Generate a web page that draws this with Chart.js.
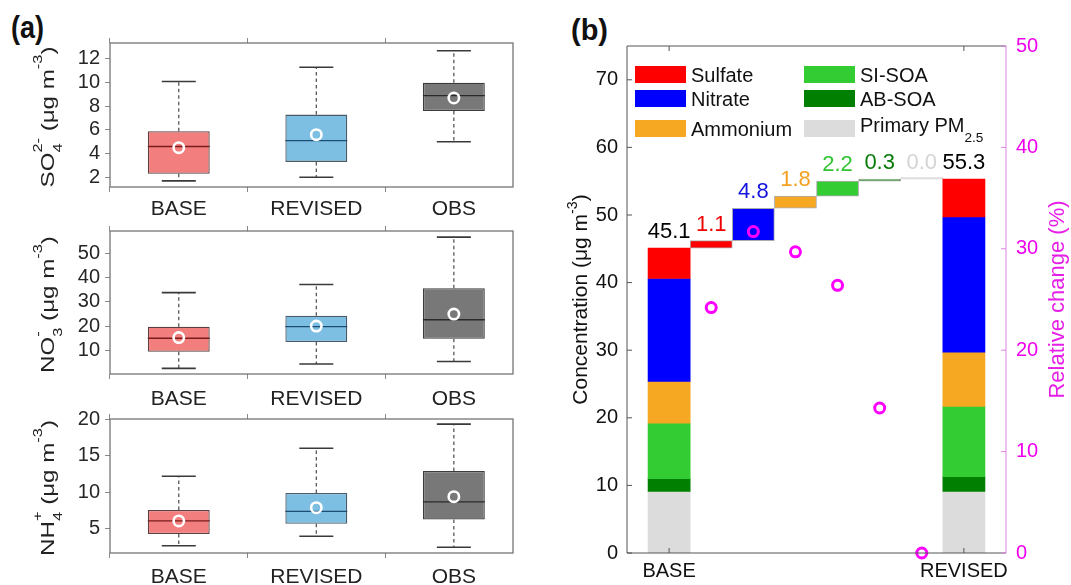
<!DOCTYPE html>
<html>
<head>
<meta charset="utf-8">
<script src="https://cdn.jsdelivr.net/npm/chart.js@4.4.1/dist/chart.umd.min.js"></script>
<style>
  body { margin: 0; width: 1071px; height: 585px; overflow: hidden; position: relative; background: #fff;
         font-family: "Liberation Sans", Arial, sans-serif; }
  canvas { position: absolute; left: 0; top: 0; }
  .tag { position: absolute; font-weight: bold; font-size: 27px; color: #111; }
</style>
</head>
<body>
<div class="tag" style="left:11px;top:10px;transform:scaleY(1.15);transform-origin:top left">(a)</div>
<div class="tag" style="left:571px;top:14px;font-size:29px">(b)</div>
<canvas id="so4" width="1071" height="585"></canvas>
<canvas id="no3" width="1071" height="585"></canvas>
<canvas id="nh4" width="1071" height="585"></canvas>
<canvas id="wf" width="1071" height="585"></canvas>
<script>
// ---- panel (a): box plots, [lower whisker, Q1, median, Q3, upper whisker]
const groups = ['BASE', 'REVISED', 'OBS'];
const so4Box = [[1.7, 2.3, 4.6, 5.9, 10.1], [2.0, 3.3, 5.1, 7.3, 11.3], [5.0, 7.6, 8.9, 10.0, 12.7]];
const so4Mean = [4.5, 5.6, 8.7];
const no3Box = [[2.8, 9.6, 15.1, 19.8, 33.8], [4.6, 13.6, 19.9, 24.3, 37.1], [5.6, 14.9, 22.7, 35.6, 56.5]];
const no3Mean = [15.4, 20.1, 25.0];
const nh4Box = [[2.7, 4.3, 6.1, 7.6, 12.2], [4.0, 5.7, 7.4, 9.9, 16.0], [2.5, 6.3, 8.7, 12.9, 19.3]];
const nh4Mean = [6.1, 7.9, 9.4];

// ---- panel (b): waterfall
const species = ['Sulfate', 'Nitrate', 'Ammonium', 'SI-SOA', 'AB-SOA', 'Primary PM2.5'];
const baseConc = [4.5, 15.2, 6.2, 8.2, 1.9, 9.1];
const deltaConc = [1.1, 4.8, 1.8, 2.2, 0.3, 0.0];
const revisedConc = [5.6, 20.0, 8.0, 10.4, 2.2, 9.1];
const relChange = [24.2, 31.7, 29.7, 26.4, 14.3, 0.0];
const xLabelsB = ['BASE', '', '', '', '', '', '', 'REVISED'];

const boxFill = ['#f37e7e', '#7dbfe3', '#787878'];
const boxEdge = ['#5a4040', '#4a5a66', '#3c3c3c'];
const medianColor = ['#7a1c1c', '#1d4d70', '#2a2a2a'];
const speciesColor = ['#ff0000', '#0000ff', '#f7a823', '#33cc33', '#007f00', '#dcdcdc'];
const labelColor = ['#ee0000', '#1515dd', '#f5a020', '#33c433', '#087a08', '#d4d4d4'];

const FAM = '"Liberation Sans", Arial, sans-serif';
Chart.defaults.font.family = FAM;
const font = s => s + 'px ' + FAM;

const fixSize = (w, h) => s => {
  if (w !== null) s.width = w;
  if (h !== null) s.height = h;
  s.paddingLeft = s.paddingRight = s.paddingTop = s.paddingBottom = 0;
};

// rich text: parts are strings or {sup, sub}
function partsWidth(ctx, parts, size) {
  let w = 0;
  parts.forEach(p => {
    if (typeof p === 'string') { ctx.font = font(size); w += ctx.measureText(p).width; }
    else {
      ctx.font = font(size * 0.68);
      w += Math.max(ctx.measureText(p.sup || '').width, ctx.measureText(p.sub || '').width);
    }
  });
  return w;
}
function drawRich(ctx, parts, x, y, size, color, opt) {
  opt = Object.assign({align: 'center', sup: 0.55, sub: 0.35}, opt || {});
  ctx.save();
  ctx.fillStyle = color;
  ctx.textAlign = 'left';
  ctx.textBaseline = 'alphabetic';
  let cx = opt.align === 'center' ? x - partsWidth(ctx, parts, size) / 2 : x;
  parts.forEach(p => {
    if (typeof p === 'string') {
      ctx.font = font(size);
      ctx.fillText(p, cx, y);
      cx += ctx.measureText(p).width;
    } else {
      ctx.font = font(size * 0.68);
      let w = 0;
      if (p.sup) { ctx.fillText(p.sup, cx, y - size * opt.sup); w = ctx.measureText(p.sup).width; }
      if (p.sub) { ctx.fillText(p.sub, cx, y + size * opt.sub); w = Math.max(w, ctx.measureText(p.sub).width); }
      cx += w;
    }
  });
  ctx.restore();
}
function drawVertical(ctx, parts, x, yc, size, color, stretch, opt) {
  ctx.save();
  ctx.translate(x, yc);
  ctx.rotate(-Math.PI / 2);
  ctx.scale(stretch, 1);
  drawRich(ctx, parts, 0, 0, size, color, opt);
  ctx.restore();
}

// whiskers, caps, medians, frame and y title of a box panel
const boxParts = {
  id: 'boxParts',
  afterDatasetDraw(chart, args, opts) {
    if (args.index !== 1) return;
    const {ctx, scales: {y}} = chart;
    const meta = chart.getDatasetMeta(1);
    const py = v => y.getPixelForValue(v);
    opts.stats.forEach((s, i) => {
      const bar = meta.data[i];
      const cx = bar.x, hw = bar.width / 2, cap = hw * 0.55;
      ctx.save();
      ctx.strokeStyle = '#4a4a4a';
      ctx.lineWidth = 1.2;
      ctx.setLineDash([3.5, 3]);
      ctx.beginPath();
      ctx.moveTo(cx, py(s[3])); ctx.lineTo(cx, py(s[4]));
      ctx.moveTo(cx, py(s[1])); ctx.lineTo(cx, py(s[0]));
      ctx.stroke();
      ctx.setLineDash([]);
      ctx.lineWidth = 1.6;
      ctx.strokeStyle = '#3a3a3a';
      ctx.beginPath();
      ctx.moveTo(cx - cap, py(s[4])); ctx.lineTo(cx + cap, py(s[4]));
      ctx.moveTo(cx - cap, py(s[0])); ctx.lineTo(cx + cap, py(s[0]));
      ctx.stroke();
      ctx.strokeStyle = medianColor[i];
      ctx.lineWidth = 1.4;
      ctx.beginPath();
      ctx.moveTo(cx - hw, py(s[2])); ctx.lineTo(cx + hw, py(s[2]));
      ctx.stroke();
      ctx.restore();
    });
  },
  afterDraw(chart, args, opts) {
    const {ctx, chartArea: a} = chart;
    ctx.save();
    ctx.strokeStyle = '#6a6a6a';
    ctx.lineWidth = 1.2;
    ctx.strokeRect(a.left, a.top, a.right - a.left, a.bottom - a.top);
    ctx.restore();
    drawVertical(ctx, opts.title, 54, (a.top + a.bottom) / 2 + 2, 19, '#222', 1.27, {sup: 0.62, sub: 0.42});
  }
};

function boxChart(id, stats, means, yMin, yMax, step, area, labelPad) {
  const tickGrid = {display: true, drawOnChartArea: false, drawTicks: true, tickLength: 5, color: '#8a8a8a', lineWidth: 1};
  const xCommon = {
    type: 'linear', min: 0.5, max: 3.43, offset: false,
    afterBuildTicks: s => { s.ticks = groups.map((g, i) => ({value: i + 1})); },
    grid: tickGrid, border: {display: false}
  };
  return new Chart(document.getElementById(id), {
    type: 'bar',
    data: {
      datasets: [{
        type: 'line',
        data: means.map((m, i) => ({x: i + 1, y: m})),
        showLine: false,
        pointRadius: 5.2, pointHoverRadius: 5.2, pointBorderWidth: 2.6,
        pointBorderColor: '#ffffff', pointBackgroundColor: 'rgba(0,0,0,0)',
        clip: false
      }, {
        data: stats.map((s, i) => ({x: i + 1, y: [s[1], s[3]]})),
        backgroundColor: boxFill, borderColor: boxEdge, borderWidth: 1.3, borderSkipped: false,
        barPercentage: 0.45, categoryPercentage: 1
      }]
    },
    options: {
      responsive: false, animation: false, events: [],
      layout: {padding: {left: 0, top: 0, right: 1071 - area.right, bottom: 0}},
      plugins: {legend: {display: false}, tooltip: {enabled: false},
                boxParts: {stats: stats, title: area.title}},
      scales: {
        x: Object.assign({}, xCommon, {
          position: 'bottom',
          ticks: {callback: v => groups[v - 1], font: {size: 21}, color: '#222', padding: labelPad, maxRotation: 0},
          afterFit: fixSize(null, 585 - area.bottom)
        }),
        x2: Object.assign({}, xCommon, {
          position: 'top', ticks: {display: false},
          afterFit: fixSize(null, area.top)
        }),
        y: {
          min: yMin, max: yMax, beginAtZero: false,
          ticks: {stepSize: step, includeBounds: false, font: {size: 20}, color: '#262626', padding: 5},
          grid: tickGrid, border: {display: false},
          afterFit: fixSize(area.left, null)
        }
      }
    },
    plugins: [boxParts]
  });
}

boxChart('so4', so4Box, so4Mean, 1.18, 13.35, 2,
  {left: 110, right: 513, top: 43, bottom: 187, title: ['SO', {sup: '2-', sub: '4'}, ' (μg m', {sup: '-3'}, ')']}, 5);
boxChart('no3', no3Box, no3Mean, 0.5, 59, 10,
  {left: 110, right: 513, top: 231, bottom: 374, title: ['NO', {sup: '-', sub: '3'}, ' (μg m', {sup: '-3'}, ')']}, 8);
boxChart('nh4', nh4Box, nh4Mean, 1.72, 20, 5,
  {left: 110, right: 513, top: 419, bottom: 553, title: ['NH', {sup: '+', sub: '4'}, ' (μg m', {sup: '-3'}, ')']}, 7);

// ---- waterfall tables built from the arrays above
const stackOrder = [5, 4, 3, 2, 1, 0]; // bottom -> top
function stackRanges(vals) {
  const r = [];
  let acc = 0;
  stackOrder.forEach(k => { r[k] = [acc, acc + vals[k]]; acc += vals[k]; });
  return r;
}
const baseRanges = stackRanges(baseConc);
const revRanges = stackRanges(revisedConc);
const baseTotal = baseConc.reduce((a, b) => a + b, 0);
const revTotal = revisedConc.reduce((a, b) => a + b, 0);
let run = baseTotal;
const stepRanges = deltaConc.map(d => { const r = [run, run + d]; run += d; return r; });
const colTop = [baseTotal].concat(stepRanges.map(r => r[1]), [revTotal]);
const colText = [baseTotal.toFixed(1)].concat(deltaConc.map(d => d.toFixed(1)), [revTotal.toFixed(1)]);
const colColor = ['#000'].concat(labelColor, ['#000']);

const wfDeco = {
  id: 'wfDeco',
  afterDatasetsDraw(chart) {
    const {ctx, chartArea: a, scales: {x, y, y2}} = chart;
    ctx.save();
    ctx.lineWidth = 1;
    ctx.strokeStyle = '#555';
    ctx.beginPath();
    ctx.moveTo(a.right, a.top); ctx.lineTo(a.left, a.top); ctx.lineTo(a.left, a.bottom); ctx.lineTo(a.right, a.bottom);
    y.ticks.forEach(t => { const p = y.getPixelForValue(t.value); ctx.moveTo(a.left, p); ctx.lineTo(a.left + 5, p); });
    x.ticks.forEach(t => {
      const p = x.getPixelForValue(t.value);
      ctx.moveTo(p, a.bottom); ctx.lineTo(p, a.bottom - 5);
      ctx.moveTo(p, a.top); ctx.lineTo(p, a.top + 5);
    });
    ctx.stroke();
    ctx.strokeStyle = '#dc82e2';
    ctx.beginPath();
    ctx.moveTo(a.right, a.top); ctx.lineTo(a.right, a.bottom);
    y2.ticks.forEach(t => { const p = y2.getPixelForValue(t.value); ctx.moveTo(a.right, p); ctx.lineTo(a.right - 5, p); });
    ctx.stroke();
    // values above the columns
    ctx.font = font(22);
    ctx.textAlign = 'center';
    ctx.textBaseline = 'alphabetic';
    colTop.forEach((v, i) => {
      ctx.fillStyle = colColor[i];
      ctx.fillText(colText[i], x.getPixelForValue(i + 1), y.getPixelForValue(v) - 10);
    });
    ctx.restore();
  },
  afterDraw(chart) {
    const {ctx, chartArea: a} = chart;
    const rowTop = [20, 44, 74];
    species.forEach((name, k) => {
      const col = Math.floor(k / 3), row = k % 3;
      const bx = a.left + 8 + col * 169, by = a.top + rowTop[row];
      ctx.fillStyle = speciesColor[k];
      ctx.fillRect(bx, by, 51, 17);
      if (name === 'Primary PM2.5') {
        drawRich(ctx, ['Primary PM', {sub: '2.5'}], bx + 56, by + 12, 20, '#111', {align: 'left', sub: 0.5});
      } else {
        drawRich(ctx, [name], bx + 56, by + 16, 20, '#111', {align: 'left'});
      }
    });
    drawVertical(ctx, ['Concentration (μg m', {sup: '-3'}, ')'], 587, (a.top + a.bottom) / 2, 21, '#111', 1, {sup: 0.5});
    drawVertical(ctx, ['Relative change (%)'], 1064, (a.top + a.bottom) / 2, 22, '#e61ee6', 1);
  }
};

const wfDatasets = [{
  type: 'line',
  yAxisID: 'y2',
  data: relChange.map((v, i) => ({x: i + 2, y: v})),
  showLine: false,
  pointRadius: 5, pointHoverRadius: 5, pointBorderWidth: 3,
  pointBorderColor: '#ff00ff', pointBackgroundColor: 'rgba(0,0,0,0)',
  clip: false
}].concat(species.map((name, k) => ({
  label: name,
  data: [{x: 1, y: baseRanges[k]}, {x: k + 2, y: stepRanges[k]}, {x: 8, y: revRanges[k]}],
  backgroundColor: speciesColor[k],
  borderColor: k === 5 ? '#cfcfcf' : 'rgba(70,70,70,0.45)',
  borderWidth: [0, 1, 0],
  borderSkipped: false,
  grouped: false,
  barPercentage: 1, categoryPercentage: 1,
  minBarLength: 1.5
})));

new Chart(document.getElementById('wf'), {
  type: 'bar',
  data: {datasets: wfDatasets},
  options: {
    responsive: false, animation: false, events: [],
    layout: {padding: {left: 560, top: 46, right: 0, bottom: 0}},
    plugins: {legend: {display: false}, tooltip: {enabled: false}},
    scales: {
      x: {
        type: 'linear', min: 0, max: 9, offset: false,
        afterBuildTicks: s => { s.ticks = xLabelsB.map((l, i) => ({value: i + 1})).filter((t, i) => xLabelsB[i]); },
        ticks: {callback: v => xLabelsB[v - 1], font: {size: 20}, color: '#111', padding: 6, maxRotation: 0},
        grid: {display: false, drawTicks: false}, border: {display: false},
        afterFit: fixSize(null, 585 - 553)
      },
      y: {
        position: 'left', min: 0, max: 75, beginAtZero: true,
        ticks: {stepSize: 10, includeBounds: false, font: {size: 20}, color: '#111', padding: 9},
        grid: {display: false, drawTicks: false}, border: {display: false},
        afterFit: fixSize(67, null)
      },
      y2: {
        position: 'right', min: 0, max: 50,
        ticks: {stepSize: 10, includeBounds: false, font: {size: 20}, color: '#ee00ee', padding: 10},
        grid: {display: false, drawTicks: false}, border: {display: false},
        afterFit: fixSize(1071 - 1006, null)
      }
    }
  },
  plugins: [wfDeco]
});
</script>
</body>
</html>
